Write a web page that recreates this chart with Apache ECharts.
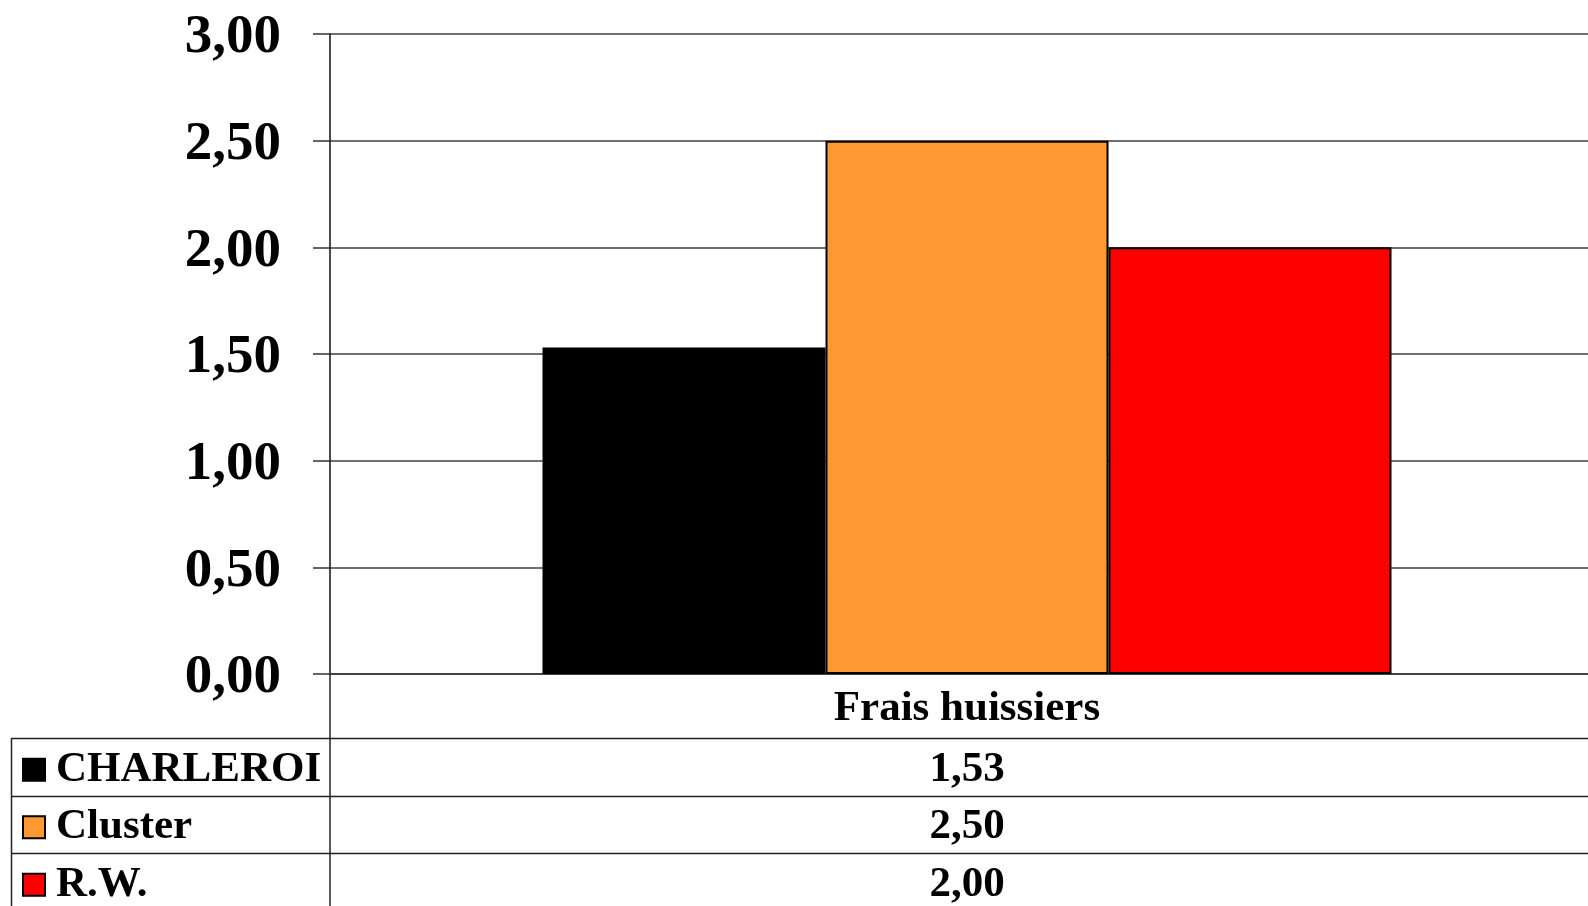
<!DOCTYPE html>
<html lang="fr">
<head>
    <meta charset="UTF-8">
    <title>Frais huissiers</title>
    <style>
        html, body { margin: 0; padding: 0; background: #fff; }
        #main { width: 1588px; height: 906px; }
    </style>
    <script src="https://cdn.jsdelivr.net/npm/echarts@6/dist/echarts.min.js"></script>
</head>
<body>
<div id="main"></div>
<script>
    // donnees
    var categories = ['Frais huissiers'];
    var seriesNames = ['CHARLEROI', 'Cluster', 'R.W.'];
    var seriesValues = [[1.53], [2.50], [2.00]];
    var seriesColors = ['#000000', '#FF9933', '#FF0000'];
    var yTicks = [0, 0.5, 1, 1.5, 2, 2.5, 3];

    var font = '"Liberation Serif", "Times New Roman", serif';
    var fmt = function (v) { return v.toFixed(2).replace('.', ','); };

    // mise en page du tableau sous le graphique
    var axisX = 330, zeroY = 674, tableLeft = 11, rowH = 57.5, headH = 64;
    var tableTop = zeroY + headH;
    var legendLine = 46;

    var chart = echarts.init(document.getElementById('main'));

    var series = seriesNames.map(function (name, i) {
        return {
            name: name,
            type: 'bar',
            data: seriesValues[i],
            barWidth: 283,
            barGap: '0%',
            itemStyle: { color: seriesColors[i], borderColor: '#000', borderWidth: 2 }
        };
    });

    var graphics = [];
    // lignes horizontales du tableau
    for (var r = 0; r < seriesNames.length; r++) {
        var y = Math.round(tableTop + r * rowH) + 0.5;
        graphics.push({ type: 'line', shape: { x1: tableLeft, y1: y, x2: 1588, y2: y },
            style: { stroke: '#222', lineWidth: 1.5 } });
    }
    graphics.push({ type: 'line', shape: { x1: tableLeft + 0.5, y1: tableTop, x2: tableLeft + 0.5, y2: 906 },
        style: { stroke: '#222', lineWidth: 1.5 } });
    graphics.push({ type: 'line', shape: { x1: axisX, y1: zeroY, x2: axisX, y2: 906 },
        style: { stroke: '#222', lineWidth: 1.5 } });

    var option = {
        animation: false,
        backgroundColor: '#fff',
        grid: { left: axisX, top: 34, right: -16, bottom: 906 - zeroY, outerBoundsMode: 'none' },
        legend: {
            orient: 'vertical',
            left: 22,
            top: tableTop + rowH / 2 + 3 - legendLine / 2,
            height: 300,
            padding: 0,
            itemGap: rowH - legendLine,
            itemWidth: 22,
            itemHeight: 22,
            icon: 'rect',
            data: seriesNames,
            textStyle: { fontFamily: font, fontWeight: 'bold', fontSize: 43, color: '#000',
                lineHeight: legendLine, padding: [0, 0, 0, 6] }
        },
        xAxis: {
            type: 'category',
            data: categories,
            axisTick: { show: false },
            axisLine: { lineStyle: { color: '#333', width: 1.5 } },
            axisLabel: {
                margin: 3,
                formatter: function (val, idx) {
                    var s = '{h|' + val + '}';
                    seriesValues.forEach(function (vals) { s += '\n{v|' + fmt(vals[idx]) + '}'; });
                    return s;
                },
                rich: {
                    h: { fontFamily: font, fontWeight: 'bold', fontSize: 43, color: '#000', lineHeight: headH },
                    v: { fontFamily: font, fontWeight: 'bold', fontSize: 43, color: '#000', lineHeight: rowH }
                }
            }
        },
        yAxis: {
            type: 'value',
            min: yTicks[0],
            max: yTicks[yTicks.length - 1],
            interval: yTicks[1] - yTicks[0],
            axisLine: { show: true, lineStyle: { color: '#111', width: 1.5 } },
            axisTick: { show: true, length: 17, lineStyle: { color: '#333', width: 1.5 } },
            splitLine: { lineStyle: { color: '#404040', width: 1.5 } },
            axisLabel: {
                margin: 49,
                formatter: function (v) { return '{n|' + fmt(v) + '}'; },
                rich: {
                    n: { fontFamily: font, fontWeight: 'bold', fontSize: 55, color: '#000',
                        padding: [8, 0, 0, 0] }
                }
            }
        },
        graphic: graphics,
        series: series
    };

    chart.setOption(option);
</script>
</body>
</html>
